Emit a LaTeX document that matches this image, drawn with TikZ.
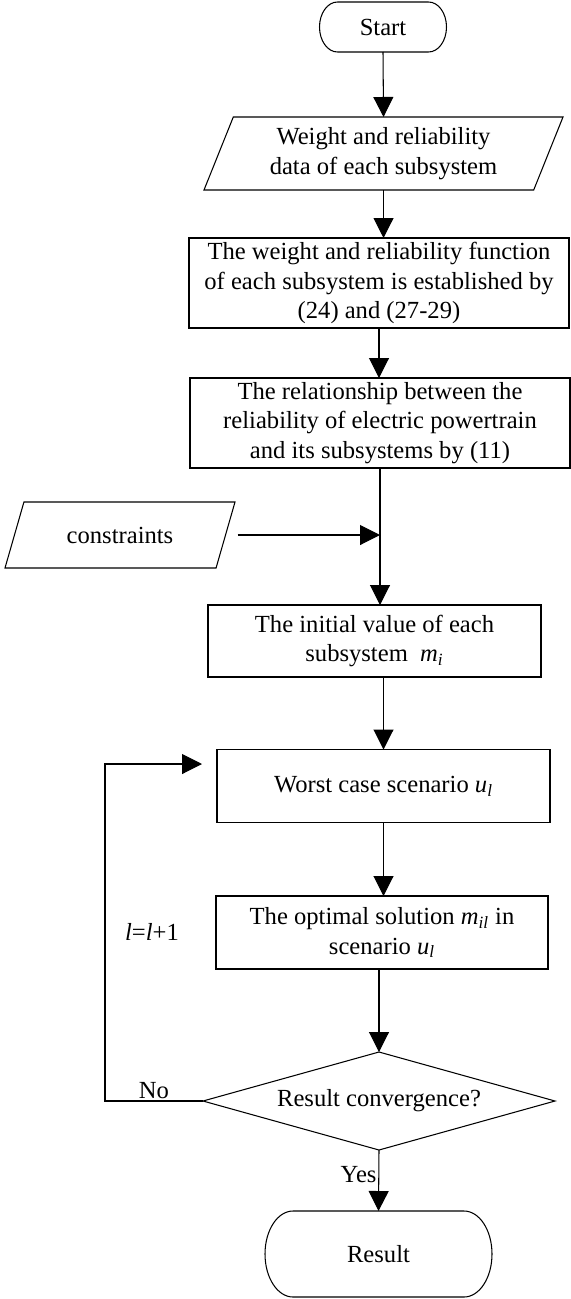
\documentclass[tikz,border=0pt]{standalone}
\usepackage{fontspec}
\setmainfont{Liberation Serif}
\usetikzlibrary{shapes.geometric, arrows.meta}

\newcommand{\sym}[2]{\textit{#1}\textsubscript{\textit{#2}}}
% terminal outline with elliptic ends: node, x radius, y radius
\newcommand{\capsule}[3]{%
  \draw ([xshift=#2]#1.north west) -- ([xshift=-#2]#1.north east)
    arc[start angle=90, end angle=-90, x radius=#2, y radius=#3]
    -- ([xshift=#2]#1.south west)
    arc[start angle=270, end angle=90, x radius=#2, y radius=#3] -- cycle;}

\begin{document}
\begin{tikzpicture}[
    font=\fontsize{14pt}{17pt}\selectfont,
    line width=0.6pt,
    box/.style={draw, rectangle, align=center, inner sep=2pt, outer sep=0pt},
    io/.style={draw, trapezium, trapezium stretches body, align=center, inner sep=2pt, outer sep=0pt},
    term/.style={rectangle, inner sep=0pt, outer sep=0pt},
    arr/.style={-{Triangle[length=0.4cm,width=0.4cm]}},
  ]
    \useasboundingbox (0,0) rectangle (11.4,-25.98);

    % Nodes
    \node[term, minimum width=2.54cm, minimum height=1cm] (start) at (7.66,-0.54) {Start};
    \capsule{start}{0.36cm}{0.5cm}
    \node[io, trapezium left angle=63.7, trapezium right angle=116.3,
          minimum width=7.18cm, minimum height=1.46cm] (data) at (7.67,-3.07)
          {Weight and reliability\\data of each subsystem};
    \node[box, minimum width=7.6cm, minimum height=1.8cm] (func) at (7.58,-5.66)
          {The weight and reliability function\\of each subsystem is established by\\(24) and (27-29)};
    \node[box, minimum width=7.6cm, minimum height=1.8cm] (relation) at (7.6,-8.46)
          {The relationship between the\\reliability of electric powertrain\\and its subsystems by (11)};
    \node[io, trapezium left angle=51.2, trapezium right angle=128.8,
          minimum width=4.6cm, minimum height=1.32cm] (cons) at (2.4,-10.7) {constraints};
    \node[box, minimum width=6.66cm, minimum height=1.44cm] (init) at (7.49,-12.82)
          {The initial value of each\\subsystem\ \ \sym{m}{i}};
    \node[box, minimum width=6.66cm, minimum height=1.46cm] (worst) at (7.67,-15.72)
          {Worst case scenario \sym{u}{l}};
    \node[box, minimum width=6.64cm, minimum height=1.46cm] (optimal) at (7.64,-18.65)
          {The optimal solution \sym{m}{il} in\\scenario \sym{u}{l}};
    \node[draw, diamond, aspect=3.6, inner sep=0pt, outer sep=0pt,
          minimum width=7.04cm, minimum height=1.96cm] (conv) at (7.58,-22.02)
          {Result convergence?};
    \node[term, minimum width=4.54cm, minimum height=1.72cm] (result) at (7.57,-25.08) {Result};
    \capsule{result}{0.56cm}{0.86cm}
    \node (step) at (3.04,-18.64) {\textit{l}=\textit{l}+1};

    % Connectors
    \draw[arr] (start.south) -- (data.north);
    \draw[arr] (data.south) -- (data.south |- func.north);
    \draw[arr] (func.south) -- (func.south |- relation.north);
    \draw[arr] (relation.south) -- (relation.south |- init.north);
    \coordinate (join) at (relation.south |- cons.east);
    \draw[arr] ([xshift=0.24cm]cons.east) -- (join);
    \draw[arr] (init.south -| worst.north) -- (worst.north);
    \draw[arr] (worst.south) -- (worst.south |- optimal.north);
    \draw[arr] (optimal.south -| conv.north) -- (conv.north);
    \draw[arr] (conv.south) -- node[left, pos=0.4, inner sep=1pt] (yes) {Yes} (result.north);
    \coordinate (back) at ([xshift=-0.3cm, yshift=0.44cm]worst.west);
    \draw[arr] (conv.west) -- node[above, inner sep=1pt] (no) {No} ++(-1.96,0) |- (back);
\end{tikzpicture}
\end{document}
